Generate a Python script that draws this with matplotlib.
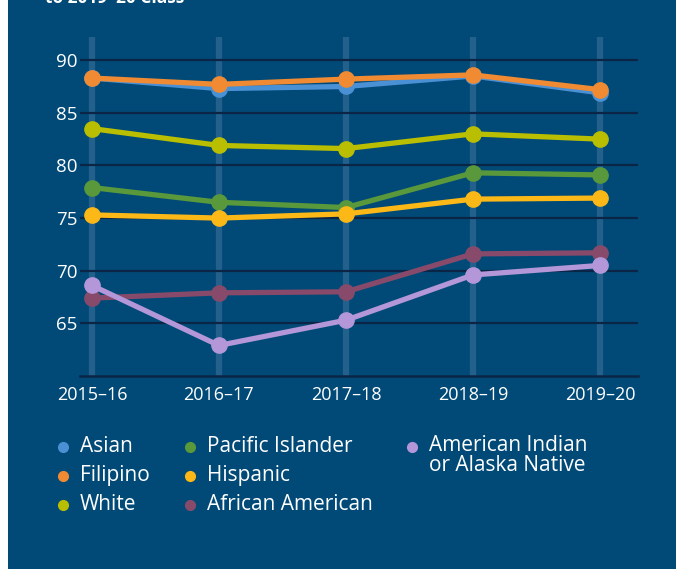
import matplotlib
matplotlib.use("Agg")
import matplotlib.pyplot as plt
from matplotlib.patches import Rectangle
from matplotlib.lines import Line2D

years = ["2015–16", "2016–17", "2017–18", "2018–19", "2019–20"]
asian = [88.3, 87.3, 87.5, 88.5, 86.9]
filipino = [88.3, 87.7, 88.2, 88.6, 87.2]
white = [83.5, 81.9, 81.6, 83.0, 82.5]
pacific = [77.9, 76.5, 76.0, 79.3, 79.1]
hispanic = [75.3, 75.0, 75.4, 76.8, 76.9]
african = [67.4, 67.9, 68.0, 71.6, 71.7]
aian = [68.6, 62.9, 65.3, 69.6, 70.5]
yticks = [65, 70, 75, 80, 85, 90]

BG = "#014a77"
GRID = "#0b2546"
BAND = "#2a6590"

series = [
    ("Asian", asian, "#4a90d4"),
    ("Filipino", filipino, "#f08a33"),
    ("White", white, "#b9bf00"),
    ("Pacific Islander", pacific, "#5a983c"),
    ("Hispanic", hispanic, "#fbb817"),
    ("African American", african, "#874a6a"),
    ("American Indian\nor Alaska Native", aian, "#b397d8"),
]

plt.rcParams["font.family"] = ["Open Sans", "DejaVu Sans"]

fig = plt.figure(figsize=(6.76, 5.69), dpi=100, facecolor=BG)
fig.patches.append(Rectangle((0, 0), 8 / 676, 1, transform=fig.transFigure,
                             facecolor="white", edgecolor="none", zorder=-1))

fig.text(45 / 676, 1 - 3 / 569, "to 2019–20 Class", color="white",
         fontsize=12.5, fontweight="bold", va="baseline", ha="left")

ax = fig.add_axes([80 / 676, 1 - 376 / 569, 558 / 676, 339 / 569])
ax.set_facecolor("none")
x = list(range(len(years)))
ax.set_xlim(-0.094, 4.3)
ax.set_ylim(60, 92.2)

for xi in x:
    ax.axvline(xi, color=BAND, lw=4.5, zorder=1, alpha=0.85)
for yt in yticks:
    ax.axhline(yt, color=GRID, lw=1.6, zorder=2)
ax.axhline(60, color=GRID, lw=1.8, zorder=2, clip_on=False)

for i, (name, vals, col) in enumerate(series):
    ax.plot(x, vals, color=col, lw=3.8, marker="o", markersize=11,
            zorder=3 + i, solid_capstyle="round")

for s in ax.spines.values():
    s.set_visible(False)
ax.set_yticks(yticks)
ax.set_yticklabels([str(v) for v in yticks], fontsize=13.5)
ax.set_xticks(x)
ax.set_xticklabels(years, fontsize=13)
ax.tick_params(axis="both", length=0, colors="white")
ax.tick_params(axis="y", pad=2)
ax.tick_params(axis="x", pad=7)

# legend
cols_x = [63, 190, 412]
rows_y = [447, 476, 505]
pos = [(0, 0), (0, 1), (0, 2), (1, 0), (1, 1), (1, 2), (2, 0)]
for (name, vals, col), (c, r) in zip(series, pos):
    mx = cols_x[c] / 676
    my = 1 - rows_y[r] / 569
    fig.lines.append(Line2D([mx], [my], marker="o", markersize=7, color=col,
                            transform=fig.transFigure, linestyle="none"))
    if "\n" in name:
        fig.text(mx + 17 / 676, my + 12 / 569, name, color="white", fontsize=15,
                 va="top", ha="left", linespacing=0.92)
    else:
        fig.text(mx + 17 / 676, my, name, color="white", fontsize=15,
                 va="center", ha="left")

fig.savefig("out.png", dpi=100, facecolor=fig.get_facecolor())
